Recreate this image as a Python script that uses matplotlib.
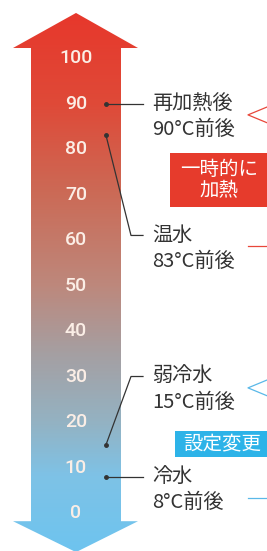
import matplotlib.pyplot as plt
import numpy as np
from matplotlib.colors import LinearSegmentedColormap
from matplotlib.patches import Polygon, Rectangle

plt.rcParams['font.family'] = ['Noto Sans CJK JP', 'DejaVu Sans']

# scale ticks (deg C)
ticks = list(range(0, 101, 10))

# water modes
names = ['再加熱後', '温水', '弱冷水', '冷水']
temps = [90, 83, 15, 8]
label_rows = [90, 61, 30, 8]   # where the text sits on the scale

side_notes = ['一時的に\n加熱', '設定変更']
side_colors = ['#e63b2c', '#2db3e8']

# gradient stops along the scale
grad_vals = [-8.5, 8, 20, 35, 50, 70, 90, 113]
grad_cols = ['#6ec4ef', '#7ec2e6', '#94b2c2', '#a59fa2', '#bd887c', '#cb6b57', '#df4a38', '#e8352a']

fig = plt.figure(figsize=(2.67, 5.51), dpi=100)
ax = fig.add_axes([0, 0, 1, 1])
ax.set_xlim(0, 267)
ax.set_ylim(-8.35, 112.75)
ax.axis('off')

# big double arrow
cx = 76
shape = [(cx, 109.9), (138, 102.2), (121, 102.2), (121, -1.8), (138, -1.8),
         (cx, -8.6), (13, -1.8), (31, -1.8), (31, 102.2), (13, 102.2)]
arrow = Polygon(shape, closed=True, facecolor='none', edgecolor='none')
ax.add_patch(arrow)

lo, hi = grad_vals[0], grad_vals[-1]
cmap = LinearSegmentedColormap.from_list(
    'temp', [((v - lo) / (hi - lo), c) for v, c in zip(grad_vals, grad_cols)])
grad = np.linspace(lo, hi, 400).reshape(-1, 1)
im = ax.imshow(grad, cmap=cmap, extent=(13, 138, lo, hi), origin='lower',
               aspect='auto', interpolation='bilinear')
im.set_clip_path(arrow)

for t in ticks:
    ax.text(cx, t, str(t), ha='center', va='center', fontsize=14,
            color='#fbeee6', fontweight='medium',
            family=['Roboto', 'DejaVu Sans'])

# leader lines + labels
dot_x, bend_x, end_x, txt_x = 106, 131, 143, 152
for name, t, row in zip(names, temps, label_rows):
    ax.plot(dot_x, t, 'o', ms=2.5, color='#333333', zorder=4)
    if row == t:
        ax.plot([dot_x, end_x], [t, t], color='#333333', lw=0.9)
    else:
        ax.plot([dot_x, bend_x, end_x], [t, row, row], color='#333333', lw=0.9)
    ax.text(txt_x, row, name, ha='left', va='center', fontsize=14.5, color='#333333')
    ax.text(txt_x, row - 5.7, f'{t}°C前後', ha='left', va='center',
            fontsize=14.5, color='#333333')

# side notes
ax.add_patch(Rectangle((170, 67.3), 100, 11.8, color=side_colors[0], lw=0))
ax.text(219, 73.2, side_notes[0], ha='center', va='center', fontsize=14,
        color='white', linespacing=1.05)
ax.add_patch(Rectangle((175, 12.2), 95, 5.9, color=side_colors[1], lw=0))
ax.text(222, 15.1, side_notes[1], ha='center', va='center', fontsize=14,
        color='white')

# incoming arrows / lines at the right edge
for col, tip, line in [('#e8473a', 87.5, 58.7), ('#5ab8e8', 27.5, 3.3)]:
    ax.plot([270, 248, 270], [tip + 2.0, tip, tip - 2.0], color=col, lw=0.9)
    ax.plot([248, 270], [line, line], color=col, lw=0.9)

fig.savefig('out.png', dpi=100, facecolor='white')
